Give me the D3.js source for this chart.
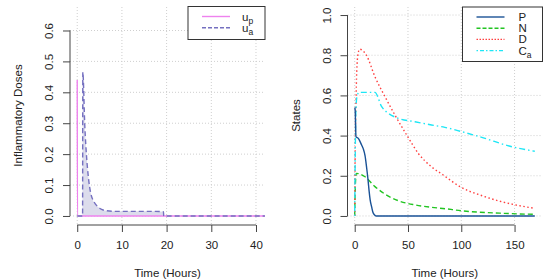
<!DOCTYPE html>
<html>
<head>
<meta charset="utf-8">
<script src="https://cdn.jsdelivr.net/npm/d3@7"></script>
<style>
  body { margin: 0; background: #fff; }
  text { font-family: "Liberation Sans", Arial, sans-serif; fill: #222; }
</style>
</head>
<body>
<svg width="555" height="280"></svg>
<script>
// ---- left panel: inflammatory doses ----
var upTime = [0, 0.05, 42];
var upDose = [0.44, 0, 0];
var uaTime = [0, 1.2, 1.25, 1.7, 2.1, 2.5, 3.0, 3.5, 4.0, 5.0, 6.5, 8.0, 12, 16, 19.3, 19.35, 42];
var uaDose = [0, 0, 0.465, 0.29, 0.19, 0.125, 0.075, 0.052, 0.04, 0.025, 0.017, 0.015, 0.015, 0.015, 0.014, 0, 0];
var leftXTicks = [0, 10, 20, 30, 40];
var leftYTicks = [0, 0.1, 0.2, 0.3, 0.4, 0.5, 0.6];

// ---- right panel: states ----
var pTime = [0, 0.4, 1.2, 3.4, 6.5, 8, 9.7, 11.2, 12.5, 13.5, 14.5, 15.9, 17, 18.5, 20, 169];
var pVal  = [0.54, 0.53, 0.395, 0.386, 0.353, 0.335, 0.30, 0.24, 0.18, 0.125, 0.08, 0.045, 0.02, 0.006, 0, 0];
var nTime = [0, 0.6, 1.5, 4, 9.7, 19, 28.4, 40.9, 56.5, 72, 85, 100, 136, 169];
var nVal  = [0, 0.15, 0.212, 0.21, 0.195, 0.146, 0.109, 0.076, 0.055, 0.043, 0.036, 0.026, 0.014, 0.008];
var dTime = [0, 0.5, 1.2, 1.9, 3, 4.5, 7, 11, 19, 28.4, 37.8, 49.7, 59.6, 72, 83, 100, 120, 135, 150, 169];
var dVal  = [0, 0.35, 0.56, 0.72, 0.80, 0.83, 0.825, 0.80, 0.693, 0.594, 0.502, 0.395, 0.312, 0.245, 0.204, 0.142, 0.10, 0.075, 0.056, 0.038];
var caTime = [0, 0.5, 1, 2, 4, 19, 25.3, 31.5, 40.9, 56.5, 72, 84.6, 100, 120, 145, 169];
var caVal  = [0, 0.3, 0.5, 0.59, 0.615, 0.615, 0.544, 0.511, 0.486, 0.469, 0.453, 0.441, 0.42, 0.39, 0.348, 0.322];
var rightXTicks = [0, 50, 100, 150];
var rightYTicks = [0, 0.2, 0.4, 0.6, 0.8, 1.0];

var svg = d3.select('svg');
var plotTop = 7, plotBottom = 224;

// R style 4% padding of the axis range
function pad(lim) {
  var d = (lim[1] - lim[0]) * 0.04;
  return [lim[0] - d, lim[1] + d];
}

function pts(t, v) {
  return t.map(function(d, i) { return [d, v[i]]; });
}

// draw the frame of one panel and return its scales
function drawPanel(cfg) {
  var x = d3.scaleLinear().domain(pad(cfg.xlim)).range([cfg.left, cfg.right]);
  var y = d3.scaleLinear().domain(pad(cfg.ylim)).range([plotBottom, plotTop]);
  var g = svg.append('g');

  // dotted grid
  g.selectAll('.vgrid').data(cfg.xTicks).enter().append('line')
      .attr('x1', x).attr('x2', x).attr('y1', plotTop).attr('y2', plotBottom)
      .attr('stroke', '#cfcfcf').attr('stroke-dasharray', '1,2');
  g.selectAll('.hgrid').data(cfg.yTicks).enter().append('line')
      .attr('x1', cfg.left).attr('x2', cfg.right).attr('y1', y).attr('y2', y)
      .attr('stroke', '#cfcfcf').attr('stroke-dasharray', '1,2');

  // y axis
  var ya = g.append('g').attr('transform', 'translate(' + cfg.left + ',0)')
      .call(d3.axisLeft(y).tickValues(cfg.yTicks).tickFormat(d3.format('.1f')).tickSize(7));
  ya.select('.domain').remove();
  ya.append('line').attr('y1', y(cfg.yTicks[0])).attr('y2', y(cfg.yTicks[cfg.yTicks.length - 1]))
      .attr('stroke', '#444');
  ya.selectAll('.tick line').attr('stroke', '#444');
  ya.selectAll('.tick text').attr('x', null).attr('dy', null)
      .attr('transform', 'translate(-17,0) rotate(-90)')
      .attr('text-anchor', 'middle').style('font-size', '11.5px').style('font-family', null);

  // x axis
  var xa = g.append('g').attr('transform', 'translate(0,' + (plotBottom + 1) + ')')
      .call(d3.axisBottom(x).tickValues(cfg.xTicks).tickFormat(d3.format('d')).tickSize(7));
  xa.select('.domain').remove();
  xa.append('line').attr('x1', x(cfg.xTicks[0])).attr('x2', x(cfg.xTicks[cfg.xTicks.length - 1]))
      .attr('stroke', '#444');
  xa.selectAll('.tick line').attr('stroke', '#444');
  xa.selectAll('.tick text').attr('y', 16).style('font-size', '11.5px').style('font-family', null);

  // titles
  g.append('text').attr('x', (cfg.left + cfg.right) / 2).attr('y', 277)
      .attr('text-anchor', 'middle').style('font-size', '11.5px').text('Time (Hours)');
  g.append('text').attr('transform', 'translate(' + (cfg.left - 48) + ',' + ((plotTop + plotBottom) / 2) + ') rotate(-90)')
      .attr('text-anchor', 'middle').style('font-size', '11.5px').text(cfg.ylab);

  svg.append('clipPath').attr('id', cfg.id)
    .append('rect').attr('x', cfg.left).attr('y', plotTop)
      .attr('width', cfg.right - cfg.left).attr('height', plotBottom - plotTop);

  return { x: x, y: y, g: svg.append('g').attr('clip-path', 'url(#' + cfg.id + ')') };
}

function addLine(p, data, color, dash) {
  var line = d3.line().x(function(d) { return p.x(d[0]); }).y(function(d) { return p.y(d[1]); })
      .curve(d3.curveMonotoneX);
  p.g.append('path').attr('d', line(data)).attr('fill', 'none')
      .attr('stroke', color).attr('stroke-width', 1.4).attr('stroke-dasharray', dash);
}

function legend(box, items) {
  var lg = svg.append('g');
  lg.append('rect').attr('x', box.x).attr('y', box.y).attr('width', box.w).attr('height', box.h)
      .attr('fill', '#fff').attr('stroke', '#333');
  items.forEach(function(it, i) {
    var yy = box.y + 10 + i * 11.2;
    lg.append('line').attr('x1', box.x + 14).attr('x2', box.x + 42).attr('y1', yy).attr('y2', yy)
        .attr('stroke', it.color).attr('stroke-width', 1.4).attr('stroke-dasharray', it.dash);
    var t = lg.append('text').attr('x', box.x + box.tx).attr('y', yy + 4).style('font-size', '11.5px');
    t.append('tspan').text(it.name);
    if (it.sub) t.append('tspan').attr('dy', 3).style('font-size', '8.5px').text(it.sub);
  });
}

// left panel
var L = drawPanel({ id: 'clipL', left: 70, right: 265, xlim: [0, 40.4], ylim: [0, 0.65],
                    xTicks: leftXTicks, yTicks: leftYTicks, ylab: 'Inflammatory Doses' });
var uaData = pts(uaTime, uaDose);
L.g.append('path')
    .attr('d', d3.area().x(function(d) { return L.x(d[0]); }).y0(L.y(0)).y1(function(d) { return L.y(d[1]); })
      .curve(d3.curveMonotoneX)(uaData))
    .attr('fill', '#dcdcec');
addLine(L, pts(upTime, upDose), 'violet', null);
addLine(L, uaData, '#7570c0', '5,3');
legend({ x: 188, y: 6.5, w: 77, h: 33, tx: 54 }, [
  { name: 'u', sub: 'p', color: 'violet', dash: null },
  { name: 'u', sub: 'a', color: '#7570c0', dash: '4,2' }
]);

// right panel
var R = drawPanel({ id: 'clipR', left: 347.5, right: 542, xlim: [0, 169], ylim: [0, 1],
                    xTicks: rightXTicks, yTicks: rightYTicks, ylab: 'States' });
addLine(R, pts(nTime, nVal), '#22c422', '5,3');
addLine(R, pts(dTime, dVal), '#ff4040', '1.5,2.5');
addLine(R, pts(caTime, caVal), '#1ee6f5', '1.5,3,6,3');
addLine(R, pts(pTime, pVal), '#1a5296', null);
legend({ x: 462.5, y: 7, w: 80, h: 54.5, tx: 56 }, [
  { name: 'P', color: '#1a5296', dash: null },
  { name: 'N', color: '#22c422', dash: '4,2' },
  { name: 'D', color: '#ff4040', dash: '1.5,1.5' },
  { name: 'C', sub: 'a', color: '#1ee6f5', dash: '1.5,2,4,2' }
]);
</script>
</body>
</html>
